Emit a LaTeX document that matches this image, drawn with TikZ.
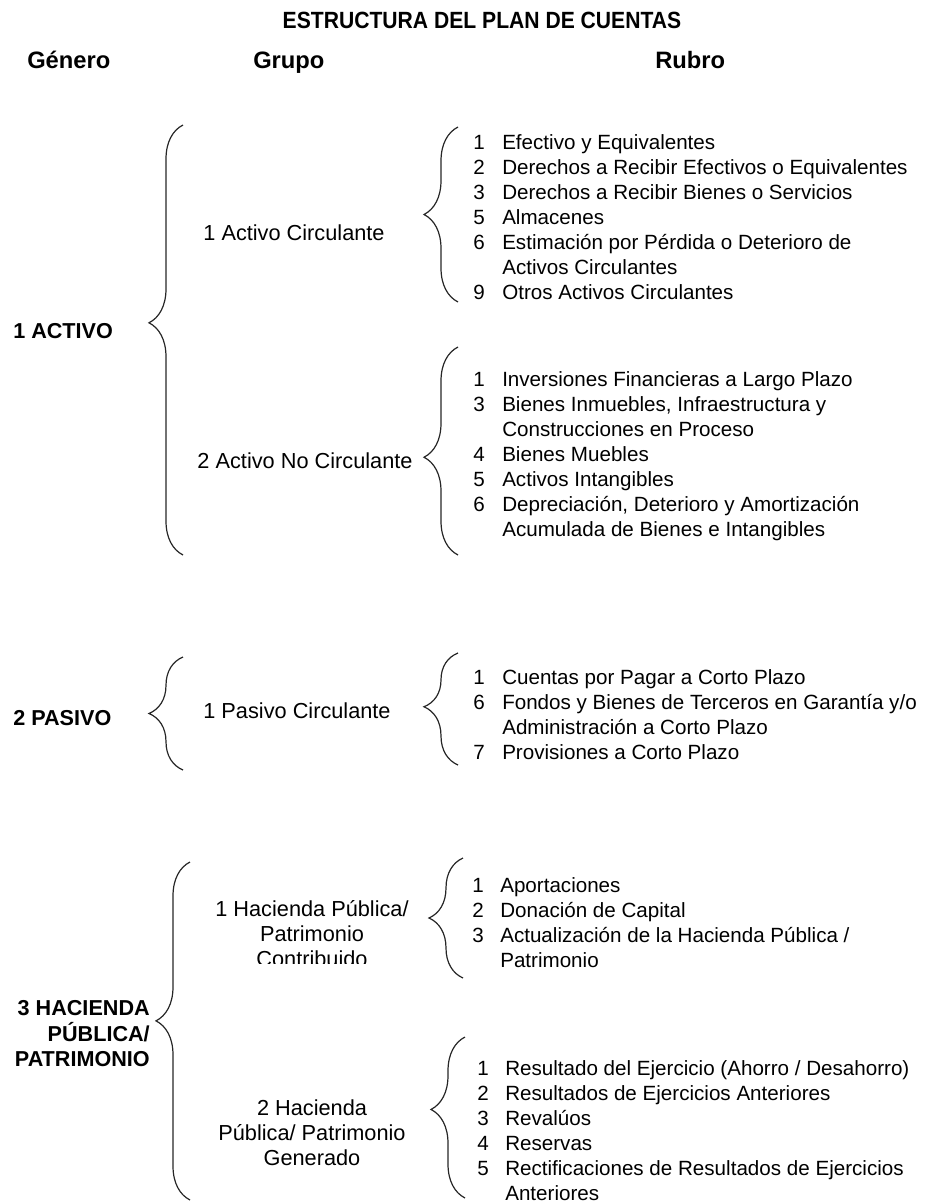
\documentclass[tikz,border=0pt]{standalone}
\usepackage{fontspec}
\setmainfont{Liberation Sans}
\newfontfamily\titlefont[FakeStretch=0.9]{Liberation Sans}
\usetikzlibrary{decorations.pathreplacing}
\begin{document}
\begin{tikzpicture}[x=0.75pt, y=-0.75pt,
	title/.style  = {font=\titlefont\bfseries\fontsize{17.6}{20}\selectfont, anchor=base, inner sep=0pt},
	head/.style   = {font=\bfseries\fontsize{17.8}{20}\selectfont, anchor=base west, inner sep=0pt},
	genero/.style = {font=\bfseries\fontsize{16.2}{18.8}\selectfont, inner sep=0pt},
	grupo/.style  = {font=\fontsize{16.3}{18.8}\selectfont, anchor=base, inner sep=0pt},
	rubro/.style  = {font=\fontsize{15.45}{18.8}\selectfont, anchor=base west, inner sep=0pt},
	brc/.style    = {decorate, decoration={brace, amplitude=25.5pt, aspect=#1}, draw=black!85, line width=0.9pt},
	brc/.default  = 0.5]
	\useasboundingbox (0,0) rectangle (951,1203);
	
	% title and column heads
	\node[title] (tit) at (482,28) {ESTRUCTURA DEL PLAN DE CUENTAS};
	\node[head] (hgen) at (27,68) {Género};
	\node[head] (hgru) at (253,68) {Grupo};
	\node[head] (hrub) at (655,68) {Rubro};
	
	% first level, the three genders
	\node[genero, anchor=base west] (g1) at (13,338) {1 ACTIVO};
	\node[genero, anchor=base west] (g2) at (13,725) {2 PASIVO};
	\node[genero, anchor=base east] (g3) at (150,1015) {\begin{tabular}[t]{@{}r@{}}3 HACIENDA\\PÚBLICA/\\PATRIMONIO\end{tabular}};
	
	% second level, the groups
	\node[grupo] (g11) at (294,240) {1 Activo Circulante};
	\node[grupo] (g12) at (305,468) {2 Activo No Circulante};
	\node[grupo] (g21) at (297,718) {1 Pasivo Circulante};
	\begin{scope}
	\clip (0,0) rectangle (951,963);
	\node[grupo] (g31) at (312,916) {\begin{tabular}[t]{@{}c@{}}1 Hacienda Pública/\\Patrimonio\\Contribuido\end{tabular}};
	\end{scope}
	\node[grupo] (g32) at (312,1115) {\begin{tabular}[t]{@{}c@{}}2 Hacienda\\Pública/ Patrimonio\\Generado\end{tabular}};
	
	% third level, the lists of rubros
	\node[rubro] (r11) at (473,149) {\begin{tabular}[t]{@{}p{21.75pt}@{}l@{}}
		1 & Efectivo y Equivalentes\\
		2 & Derechos a Recibir Efectivos o Equivalentes\\
		3 & Derechos a Recibir Bienes o Servicios\\
		5 & Almacenes\\
		6 & Estimación por Pérdida o Deterioro de\\
		  & Activos Circulantes\\
		9 & Otros Activos Circulantes
	\end{tabular}};
	\node[rubro] (r12) at (473,386) {\begin{tabular}[t]{@{}p{21.75pt}@{}l@{}}
		1 & Inversiones Financieras a Largo Plazo\\
		3 & Bienes Inmuebles, Infraestructura y\\
		  & Construcciones en Proceso\\
		4 & Bienes Muebles\\
		5 & Activos Intangibles\\
		6 & Depreciación, Deterioro y Amortización\\
		  & Acumulada de Bienes e Intangibles
	\end{tabular}};
	\node[rubro] (r21) at (473,684) {\begin{tabular}[t]{@{}p{21.75pt}@{}l@{}}
		1 & Cuentas por Pagar a Corto Plazo\\
		6 & Fondos y Bienes de Terceros en Garantía y/o\\
		  & Administración a Corto Plazo\\
		7 & Provisiones a Corto Plazo
	\end{tabular}};
	\node[rubro] (r31) at (472,892) {\begin{tabular}[t]{@{}p{21pt}@{}l@{}}
		1 & Aportaciones\\
		2 & Donación de Capital\\
		3 & Actualización de la Hacienda Pública /\\
		  & Patrimonio
	\end{tabular}};
	\node[rubro] (r32) at (477,1075) {\begin{tabular}[t]{@{}p{21pt}@{}l@{}}
		1 & Resultado del Ejercicio (Ahorro / Desahorro)\\
		2 & Resultados de Ejercicios Anteriores\\
		3 & Revalúos\\
		4 & Reservas\\
		5 & Rectificaciones de Resultados de Ejercicios\\
		  & Anteriores
	\end{tabular}};
	
	% end points of the braces
	\coordinate (b1t) at (183,125);  \coordinate (b1b) at (183,555);
	\coordinate (b11t) at (458,127); \coordinate (b11b) at (458,302);
	\coordinate (b12t) at (458,347); \coordinate (b12b) at (458,555);
	\coordinate (b2t) at (183,657);  \coordinate (b2b) at (183,770);
	\coordinate (b21t) at (458,653); \coordinate (b21b) at (458,765);
	\coordinate (b3t) at (190,862);  \coordinate (b3b) at (190,1200);
	\coordinate (b31t) at (463,858); \coordinate (b31b) at (463,978);
	\coordinate (b32t) at (465,1037); \coordinate (b32b) at (465,1198);
	
	% braces from each level to its children
	\foreach \n/\a in {b1/0.54, b11/0.5, b12/0.47, b2/0.5, b21/0.52, b3/0.53, b31/0.5, b32/0.55}
	\draw[brc=\a] (\n b) -- (\n t);
\end{tikzpicture}
\end{document}
